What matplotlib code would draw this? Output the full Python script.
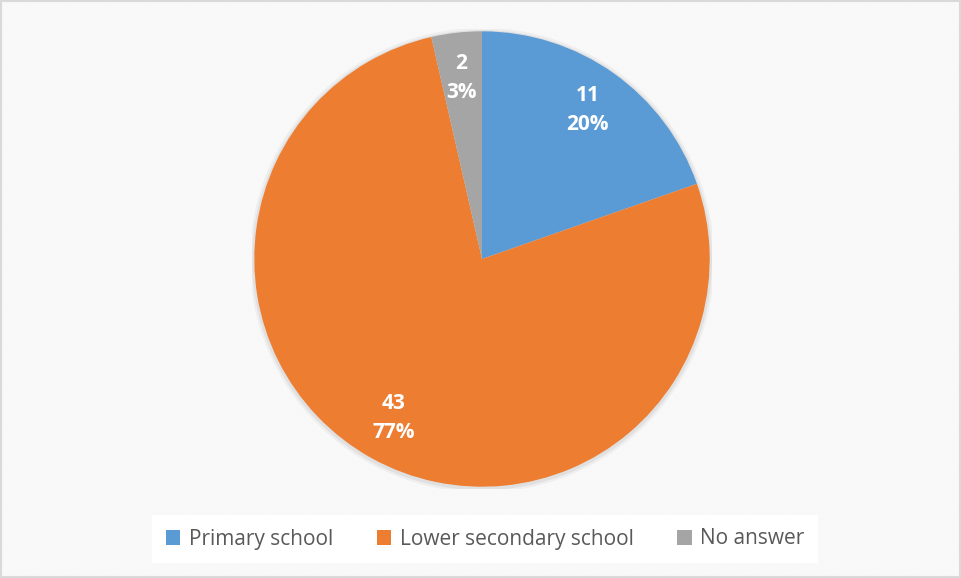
import matplotlib
matplotlib.use("Agg")
import matplotlib.pyplot as plt
from matplotlib.patches import Rectangle, Patch

categories = ["Primary school", "Lower secondary school", "No answer"]
counts = [11, 43, 2]
pct_labels = ["20%", "77%", "3%"]
colors = ["#5b9bd5", "#ed7d31", "#a5a5a5"]

plt.rcParams['font.family'] = ['Open Sans', 'DejaVu Sans']
plt.rcParams['hatch.linewidth'] = 1.5

fig = plt.figure(figsize=(9.61, 5.78), dpi=100)
fig.patch.set_facecolor("white")

# faint diagonal hatching over the whole background
bg = Rectangle((0, 0), 1, 1, transform=fig.transFigure, facecolor="white",
               edgecolor="#f8f8f8", hatch="\\" * 10, linewidth=0, zorder=-10)
fig.patches.append(bg)
# thin light border
fig.patches.append(Rectangle((0.001, 0.002), 0.998, 0.996, transform=fig.transFigure,
                             fill=False, edgecolor="#d9d9d9", linewidth=1.5, zorder=10))

# pie centre about (482, 259) px, radius ~228 px
W, H = 961, 578
cx, cy, half = 482, 259, 230
ax = fig.add_axes([(cx - half) / W, (H - cy - half) / H, 2 * half / W, 2 * half / H])

# soft shadow ring behind the pie
for r, a in [(1.01, 0.04), (1.0, 0.06)]:
    ax.add_patch(plt.Circle((0.0, -0.005), r, color="#000000", alpha=a, lw=0, zorder=0))

lbl_iter = iter(range(len(counts)))
def fmt(p):
    i = next(lbl_iter)
    return f"{counts[i]}\n{pct_labels[i]}"

wedges, texts, autotexts = ax.pie(counts, colors=colors, startangle=90, counterclock=False,
                                  radius=0.99, autopct=fmt, pctdistance=0.8,
                                  wedgeprops=dict(linewidth=0, zorder=1))
for t in autotexts:
    t.set_color("white")
    t.set_fontweight("bold")
    t.set_fontsize(15)
    t.set_linespacing(1.5)

ax.set_xlim(-1, 1)
ax.set_ylim(-1, 1)
ax.set_aspect("equal")
ax.axis("off")

handles = [Patch(facecolor=c, edgecolor="none") for c in colors]
leg = fig.legend(handles, categories, loc="center", bbox_to_anchor=(485 / W, 1 - 539 / H),
                 ncol=3, frameon=True, fontsize=15, handlelength=0.7, handleheight=0.7,
                 handletextpad=0.4, columnspacing=2.1, borderpad=0.65, fancybox=False,
                 labelcolor="#595959")
leg.get_frame().set_facecolor("white")
leg.get_frame().set_edgecolor("none")
leg.get_frame().set_alpha(1)

fig.savefig("out.png", dpi=100, facecolor="white")
